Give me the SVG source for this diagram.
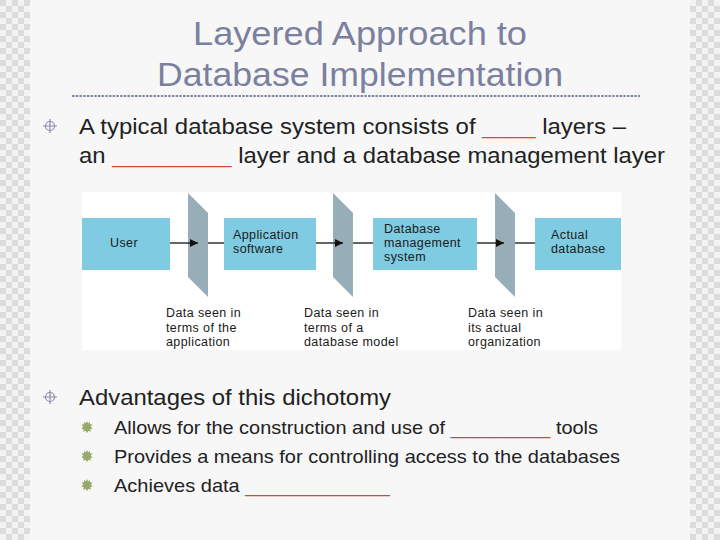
<svg xmlns="http://www.w3.org/2000/svg" xmlns:xlink="http://www.w3.org/1999/xlink" width="720" height="540" viewBox="0 0 720 540">
<style>
.title{font-family:"Liberation Sans",Arial,sans-serif;font-size:34px;fill:#7a809e;text-anchor:middle}
.b1{font-family:"Liberation Sans",Arial,sans-serif;font-size:22px;fill:#222}
.b2{font-family:"Liberation Sans",Arial,sans-serif;font-size:19px;fill:#222}
.blank{fill:#c9502a}
.box{fill:#7fcbe2}
.panel{fill:#97adb8}
.lbl{font-family:"Liberation Sans",Arial,sans-serif;font-size:12.5px;letter-spacing:0.4px;fill:#1a1a1a}
.conn{stroke:#111;stroke-width:1.3;fill:none}
</style>
<defs>
<pattern id="chk" x="0" y="0" width="12" height="12" patternUnits="userSpaceOnUse">
<rect width="12" height="12" fill="#f3f3f3"/>
<rect width="6" height="6" fill="#dcdcdc"/>
<rect x="6" y="6" width="6" height="6" fill="#dcdcdc"/>
</pattern>
<marker id="ah" viewBox="0 0 8 8" refX="8" refY="4" markerWidth="8" markerHeight="8" markerUnits="userSpaceOnUse" orient="auto">
<path d="M0,0 L8,4 L0,8 Z" fill="#111"/>
</marker>
<g id="cross">
<circle r="4.5" fill="none" stroke="#8c8cab" stroke-width="1.2"/>
<path d="M-7,0 H7 M0,-7 V7" stroke="#8c8cab" stroke-width="1.2"/>
</g>
<g id="star">
<polygon fill="#98aa68" points="0,-6 1.2,-3.5 3,-5.2 2.9,-2.7 5.6,-2.5 3.6,-0.6 5.6,1.5 3.2,2.2 4,4.8 1.5,3.7 0,6 -1.5,3.7 -4,4.8 -3.2,2.2 -5.6,1.5 -3.6,-0.6 -5.6,-2.5 -2.9,-2.7 -3,-5.2 -1.2,-3.5"/>
<circle r="3.6" fill="#98aa68"/>
</g>
</defs>

<rect width="720" height="540" fill="#f7f7f8"/>
<rect x="0" y="0" width="30" height="540" fill="url(#chk)"/>
<rect x="690" y="0" width="30" height="540" fill="url(#chk)"/>

<g id="title">
<text class="title" x="360" y="45" textLength="334" lengthAdjust="spacingAndGlyphs">Layered Approach to</text>
<text class="title" x="360" y="86" textLength="406" lengthAdjust="spacingAndGlyphs">Database Implementation</text>
<line x1="72" y1="96" x2="640" y2="96" stroke="#7f87a8" stroke-width="2" stroke-dasharray="2.5,1.2"/>
</g>

<g id="bullet1">
<use xlink:href="#cross" x="50" y="126"/>
<text class="b1" x="79" y="134" textLength="547" lengthAdjust="spacingAndGlyphs">A typical database system consists of <tspan class="blank">____</tspan> layers –</text>
<text class="b1" x="79" y="163" textLength="586" lengthAdjust="spacingAndGlyphs">an <tspan class="blank">_________</tspan> layer and a database management layer</text>
</g>

<g id="diagram">
<rect x="82" y="192" width="539" height="158" fill="#ffffff"/>
<g id="user"><rect class="box" x="82" y="218" width="88" height="52"/><text class="lbl" x="110" y="247">User</text></g>
<g id="app"><rect class="box" x="224" y="218" width="92" height="52"/><text class="lbl" x="233" y="239">Application</text><text class="lbl" x="233" y="253">software</text></g>
<g id="dbms"><rect class="box" x="373" y="218" width="104" height="52"/><text class="lbl" x="384" y="233">Database</text><text class="lbl" x="384" y="247">management</text><text class="lbl" x="384" y="261">system</text></g>
<g id="actual"><rect class="box" x="535" y="218" width="86" height="52"/><text class="lbl" x="551" y="239">Actual</text><text class="lbl" x="551" y="253">database</text></g>
<g id="panel1"><polygon class="panel" points="188,193 208,213 208,297 188,277"/></g>
<g id="panel2"><polygon class="panel" points="333,193 353,213 353,297 333,277"/></g>
<g id="panel3"><polygon class="panel" points="495,193 515,213 515,297 495,277"/></g>
<g id="connectors">
<line class="conn" x1="170" y1="243" x2="198" y2="243" marker-end="url(#ah)"/>
<line class="conn" x1="208" y1="243" x2="224" y2="243"/>
<line class="conn" x1="316" y1="243" x2="343" y2="243" marker-end="url(#ah)"/>
<line class="conn" x1="353" y1="243" x2="373" y2="243"/>
<line class="conn" x1="477" y1="243" x2="504" y2="243" marker-end="url(#ah)"/>
<line class="conn" x1="515" y1="243" x2="535" y2="243"/>
</g>
<g id="labels">
<text class="lbl" x="166" y="317">Data seen in</text>
<text class="lbl" x="166" y="332">terms of the</text>
<text class="lbl" x="166" y="346">application</text>
<text class="lbl" x="304" y="317">Data seen in</text>
<text class="lbl" x="304" y="332">terms of a</text>
<text class="lbl" x="304" y="346">database model</text>
<text class="lbl" x="468" y="317">Data seen in</text>
<text class="lbl" x="468" y="332">its actual</text>
<text class="lbl" x="468" y="346">organization</text>
</g>
</g>

<g id="bullet2">
<use xlink:href="#cross" x="50" y="397"/>
<text class="b1" x="79" y="405" textLength="312" lengthAdjust="spacingAndGlyphs">Advantages of this dichotomy</text>
<use xlink:href="#star" x="87" y="427"/>
<text class="b2" x="114" y="434" textLength="484" lengthAdjust="spacingAndGlyphs">Allows for the construction and use of <tspan class="blank">_________</tspan> tools</text>
<use xlink:href="#star" x="87" y="456"/>
<text class="b2" x="114" y="463" textLength="506" lengthAdjust="spacingAndGlyphs">Provides a means for controlling access to the databases</text>
<use xlink:href="#star" x="87" y="485"/>
<text class="b2" x="114" y="492" textLength="276" lengthAdjust="spacingAndGlyphs">Achieves data <tspan class="blank">_____________</tspan></text>
</g>
</svg>
